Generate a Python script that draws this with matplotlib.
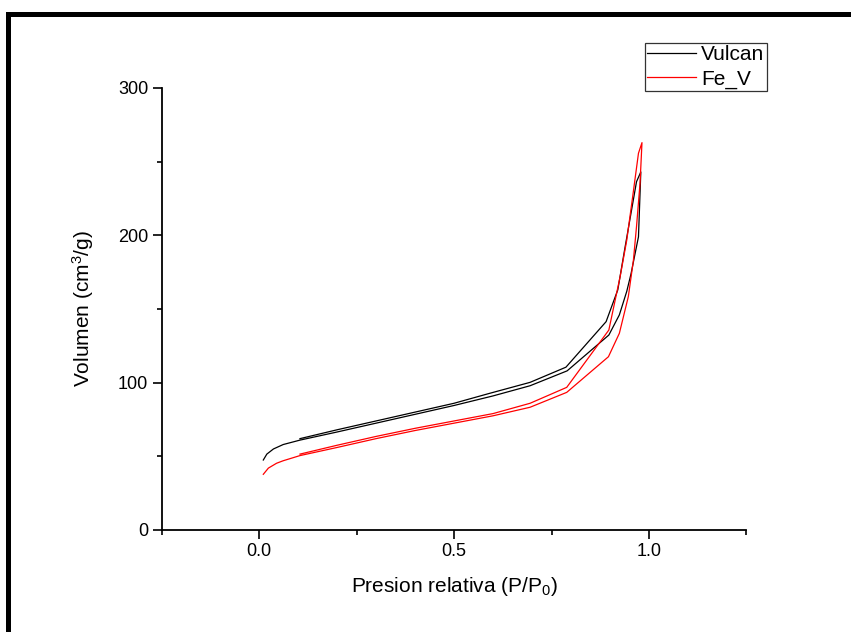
import matplotlib
matplotlib.use("Agg")
import numpy as np
import matplotlib.pyplot as plt
from matplotlib.patches import Rectangle
from matplotlib.ticker import MultipleLocator

plt.rcParams['font.family'] = ['Liberation Sans', 'DejaVu Sans']
plt.rcParams['mathtext.default'] = 'regular'

# Vulcan isotherm: adsorption branch then desorption branch
vulcan_ads_p = [0.011, 0.02, 0.037, 0.062, 0.105, 0.2, 0.3, 0.4, 0.5, 0.6, 0.695, 0.79,
                0.897, 0.924, 0.943, 0.954, 0.973, 0.979]
vulcan_ads_v = [47.5, 51.5, 55, 58, 61, 66.5, 72.5, 78.5, 84.5, 91, 97.9, 108,
                132.3, 146, 162, 174, 199, 243]
vulcan_des_p = [0.979, 0.968, 0.938, 0.92, 0.89, 0.787, 0.695, 0.592, 0.5, 0.4, 0.3, 0.2, 0.105]
vulcan_des_v = [243, 236.4, 191, 163, 141.4, 110.5, 100.2, 92.8, 86, 80, 74, 68, 62]

# Fe_V isotherm
fev_ads_p = [0.011, 0.024, 0.045, 0.062, 0.105, 0.2, 0.3, 0.4, 0.5, 0.6, 0.695, 0.789,
             0.896, 0.924, 0.947, 0.96, 0.968, 0.977, 0.982]
fev_ads_v = [37.8, 42, 45.3, 47, 50.5, 56, 62, 67.5, 72.5, 77.5, 83.3, 93.4,
             117.6, 133.5, 158.4, 183, 206, 235.3, 262.9]
fev_des_p = [0.982, 0.973, 0.958, 0.943, 0.926, 0.897, 0.789, 0.695, 0.6, 0.5, 0.4, 0.3, 0.2, 0.105]
fev_des_v = [262.9, 255.7, 226, 196.8, 172, 135.7, 96.8, 86, 79, 74, 69, 63.5, 57.5, 51.5]

labels = ['Vulcan', 'Fe_V']
colors = ['black', 'red']

fig = plt.figure(figsize=(8.51, 6.32), dpi=100)
ax = fig.add_axes([0.1898, 0.1614, 0.6874, 0.6994])

ax.plot(vulcan_ads_p + vulcan_des_p, vulcan_ads_v + vulcan_des_v,
        color=colors[0], lw=0.9, label=labels[0])
ax.plot(fev_ads_p + fev_des_p, fev_ads_v + fev_des_v,
        color=colors[1], lw=0.9, label=labels[1])

ax.set_xlim(-0.25, 1.25)
ax.set_ylim(0, 300)
ax.xaxis.set_major_locator(MultipleLocator(0.5))
ax.xaxis.set_minor_locator(MultipleLocator(0.25))
ax.yaxis.set_major_locator(MultipleLocator(100))
ax.yaxis.set_minor_locator(MultipleLocator(50))
ax.xaxis.set_major_formatter(plt.FormatStrFormatter('%.1f'))

for s in ['top', 'right']:
    ax.spines[s].set_visible(False)
for s in ['left', 'bottom']:
    ax.spines[s].set_linewidth(1.3)

ax.tick_params(which='major', direction='out', length=6.5, width=1.2, labelsize=13, pad=3)
ax.tick_params(which='minor', direction='out', length=3.5, width=1.2)

ax.set_xlabel('Presion relativa (P/P$_0$)', fontsize=15, labelpad=11)
ax.set_ylabel('Volumen (cm$^3$/g)', fontsize=15, labelpad=16)

leg = ax.legend(loc='upper right', bbox_to_anchor=(1.0345, 1.1018), borderaxespad=0,
                fontsize=15, frameon=True, fancybox=False, handlelength=2.35,
                handletextpad=0.25, borderpad=0.1, labelspacing=0.25)
leg.get_frame().set_edgecolor('black')
leg.get_frame().set_linewidth(0.9)

# thick frame on the top and left edges of the picture
W, H = 851, 632
fig.add_artist(Rectangle((6 / W, 0), 5 / W, (H - 12) / H, transform=fig.transFigure,
                         color='black', lw=0))
fig.add_artist(Rectangle((6 / W, (H - 17) / H), (W - 6) / W, 5 / H, transform=fig.transFigure,
                         color='black', lw=0))

fig.savefig('out.png', dpi=100)
